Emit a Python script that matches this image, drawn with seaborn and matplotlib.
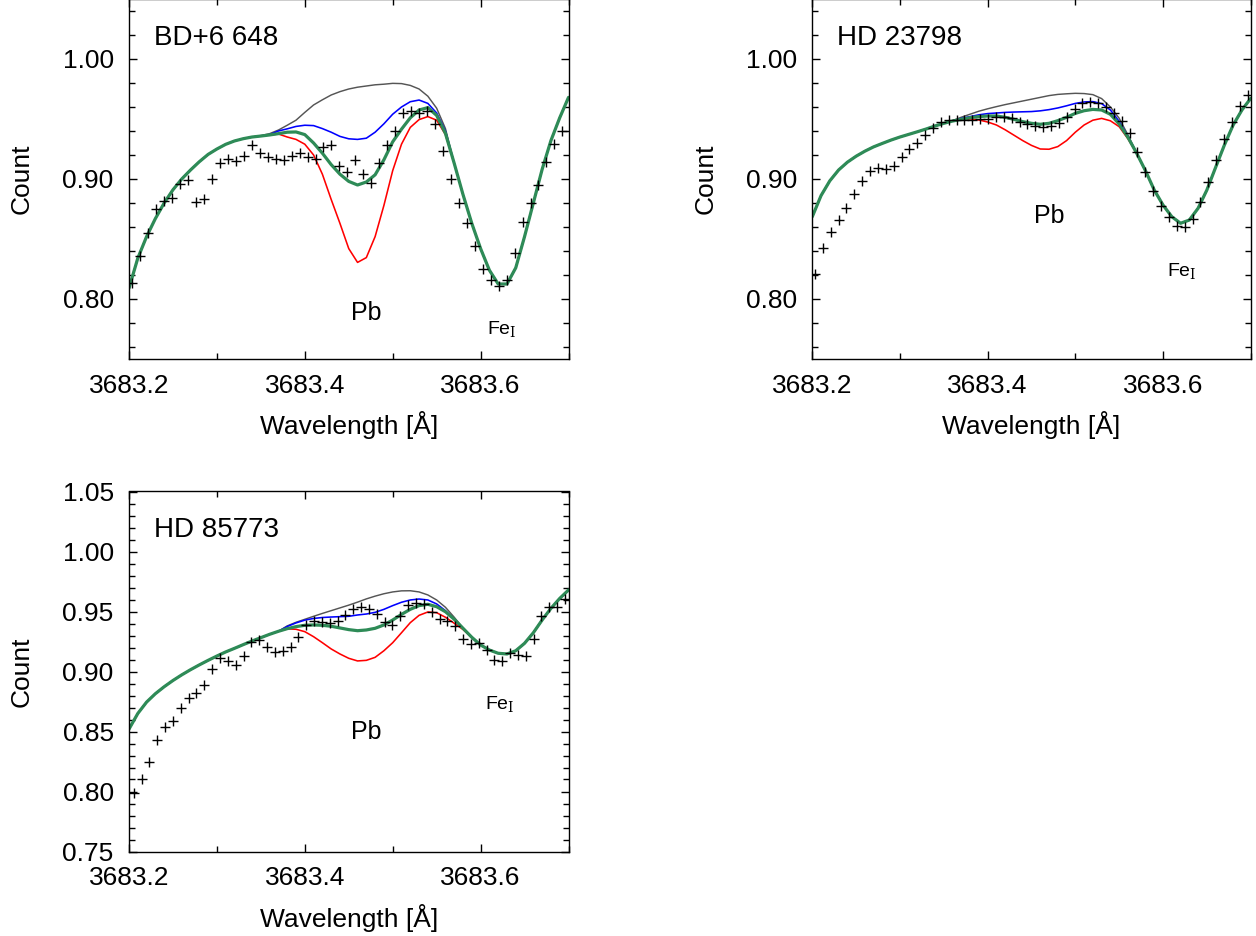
import numpy as np
import pandas as pd
import matplotlib
matplotlib.use("Agg")
import matplotlib.pyplot as plt
from matplotlib.ticker import MultipleLocator, FormatStrFormatter
import seaborn as sns

# ---------------------------------------------------------------------------
# Observed spectra (normalised counts) on each star's own wavelength grid
# ---------------------------------------------------------------------------
bd_obs_start, bd_obs_step = 3683.2038, 0.00906
bd_obs = [0.813, 0.836, 0.855, 0.875, 0.882, 0.884, 0.896, 0.899, 0.881, 0.883,
          0.900, 0.913, 0.917, 0.915, 0.919, 0.928, 0.922, 0.918, 0.917, 0.916,
          0.919, 0.922, 0.918, 0.917, 0.927, 0.928, 0.911, 0.906, 0.916, 0.904,
          0.897, 0.913, 0.928, 0.940, 0.955, 0.957, 0.955, 0.957, 0.946, 0.923,
          0.900, 0.880, 0.863, 0.844, 0.825, 0.816, 0.811, 0.816, 0.838, 0.864,
          0.880, 0.895, 0.914, 0.929, 0.940]

hd23_obs_start, hd23_obs_step = 3683.2031, 0.00897
hd23_obs = [0.8208, 0.8422, 0.8556, 0.8658, 0.8758, 0.8875, 0.8983, 0.9067, 0.9094, 0.9081,
            0.9111, 0.9181, 0.9247, 0.9303, 0.9364, 0.9428, 0.9475, 0.9492, 0.9492, 0.9495,
            0.9492, 0.9497, 0.9503, 0.9514, 0.9520, 0.9508, 0.9478, 0.9458, 0.9440, 0.9431,
            0.9442, 0.9469, 0.9514, 0.9581, 0.9636, 0.9644, 0.9631, 0.9603, 0.9553, 0.9486,
            0.9381, 0.9225, 0.9058, 0.8903, 0.8775, 0.8681, 0.8611, 0.8597, 0.8664, 0.8808,
            0.8978, 0.9158, 0.9331, 0.9478, 0.9608, 0.9697]

hd85_obs_start, hd85_obs_step = 3683.2054, 0.00892
hd85_obs = [0.7990, 0.8104, 0.8246, 0.8432, 0.8538, 0.8590, 0.8693, 0.8782, 0.8824, 0.8885,
            0.9018, 0.9115, 0.9090, 0.9051, 0.9129, 0.9243, 0.9260, 0.9201, 0.9165, 0.9171,
            0.9207, 0.9290, 0.9385, 0.9424, 0.9413, 0.9407, 0.9424, 0.9474, 0.9524, 0.9540,
            0.9524, 0.9479, 0.9410, 0.9388, 0.9463, 0.9551, 0.9574, 0.9563, 0.9496, 0.9440,
            0.9424, 0.9379, 0.9268, 0.9226, 0.9235, 0.9179, 0.9096, 0.9090, 0.9157, 0.9138,
            0.9129, 0.9268, 0.9463, 0.9540, 0.9535, 0.9604]

# ---------------------------------------------------------------------------
# Synthetic spectra, 3683.20-3683.70 A in 0.01 A steps
# gray: no Pb, blue / green / red: increasing Pb abundance (green = best fit)
# ---------------------------------------------------------------------------
synth_start, synth_step, synth_n = 3683.20, 0.01, 51

bd_gray = [0.809, 0.834, 0.852, 0.867, 0.880, 0.891, 0.900, 0.9075, 0.9144, 0.9205,
           0.925, 0.9289, 0.9317, 0.9336, 0.935, 0.9362, 0.9378, 0.9408, 0.9448, 0.949,
           0.9555, 0.9617, 0.966, 0.970, 0.9728, 0.975, 0.9765, 0.9775, 0.9785, 0.979,
           0.9797, 0.9795, 0.978, 0.975, 0.969, 0.959, 0.942, 0.913, 0.887, 0.863,
           0.842, 0.824, 0.8125, 0.8125, 0.826, 0.852, 0.880, 0.908, 0.932, 0.951,
           0.968]
bd_blue = [0.809, 0.834, 0.852, 0.867, 0.880, 0.891, 0.900, 0.9075, 0.9144, 0.9205,
           0.925, 0.9289, 0.9317, 0.9336, 0.935, 0.9358, 0.937, 0.940, 0.9418, 0.9438,
           0.9448, 0.9445, 0.942, 0.939, 0.9355, 0.9335, 0.933, 0.934, 0.939, 0.946,
           0.954, 0.960, 0.9644, 0.9658, 0.963, 0.955, 0.940, 0.913, 0.887, 0.863,
           0.842, 0.824, 0.8125, 0.8125, 0.826, 0.852, 0.880, 0.908, 0.932, 0.951,
           0.968]
bd_red = [0.809, 0.834, 0.852, 0.867, 0.880, 0.891, 0.900, 0.9075, 0.9144, 0.9205,
          0.925, 0.9289, 0.9317, 0.9336, 0.935, 0.9358, 0.9367, 0.9375, 0.935, 0.933,
          0.929, 0.920, 0.904, 0.883, 0.863, 0.842, 0.8305, 0.8345, 0.852, 0.878,
          0.907, 0.929, 0.943, 0.9495, 0.952, 0.949, 0.937, 0.913, 0.887, 0.863,
          0.842, 0.824, 0.8125, 0.8125, 0.826, 0.852, 0.880, 0.908, 0.932, 0.951,
          0.968]
bd_green = [0.809, 0.834, 0.852, 0.867, 0.880, 0.891, 0.900, 0.9075, 0.9144, 0.9205,
            0.925, 0.9289, 0.9317, 0.9336, 0.935, 0.9358, 0.9367, 0.9378, 0.939, 0.9392,
            0.937, 0.930, 0.9215, 0.912, 0.904, 0.898, 0.895, 0.8975, 0.9035, 0.916,
            0.931, 0.9415, 0.951, 0.9575, 0.9595, 0.953, 0.938, 0.913, 0.887, 0.863,
            0.842, 0.824, 0.8125, 0.8125, 0.826, 0.852, 0.880, 0.908, 0.932, 0.951,
            0.968]

hd23_gray = [0.8686, 0.8862, 0.8985, 0.9075, 0.9140, 0.9190, 0.9232, 0.9268, 0.9297, 0.9325,
             0.9350, 0.9372, 0.9394, 0.9417, 0.9442, 0.9464, 0.9487, 0.9515, 0.9540, 0.9565,
             0.9585, 0.9603, 0.9620, 0.9635, 0.9650, 0.9665, 0.9680, 0.9695, 0.9705, 0.9710,
             0.9714, 0.9712, 0.9703, 0.9670, 0.9600, 0.9506, 0.9367, 0.9214, 0.9069, 0.8908,
             0.8783, 0.8686, 0.8631, 0.8658, 0.8756, 0.8908, 0.9097, 0.9283, 0.9450, 0.9575,
             0.9672]
hd23_blue = [0.8686, 0.8862, 0.8985, 0.9075, 0.9140, 0.9190, 0.9232, 0.9268, 0.9297, 0.9325,
             0.9350, 0.9372, 0.9394, 0.9417, 0.9442, 0.9464, 0.9483, 0.9505, 0.9520, 0.9535,
             0.9545, 0.9550, 0.9555, 0.9558, 0.9560, 0.9562, 0.9568, 0.9578, 0.9592, 0.9610,
             0.9630, 0.9642, 0.9645, 0.9628, 0.9575, 0.9480, 0.9355, 0.9214, 0.9069, 0.8908,
             0.8783, 0.8686, 0.8631, 0.8658, 0.8756, 0.8908, 0.9097, 0.9283, 0.9450, 0.9575,
             0.9672]
hd23_red = [0.8686, 0.8862, 0.8985, 0.9075, 0.9140, 0.9190, 0.9232, 0.9268, 0.9297, 0.9325,
            0.9350, 0.9372, 0.9394, 0.9417, 0.9442, 0.9464, 0.9483, 0.9495, 0.9500, 0.9492,
            0.9475, 0.9450, 0.9410, 0.9365, 0.9320, 0.9280, 0.9250, 0.9248, 0.9270, 0.9320,
            0.9390, 0.9450, 0.9490, 0.9505, 0.9485, 0.9436, 0.9335, 0.9214, 0.9069, 0.8908,
            0.8783, 0.8686, 0.8631, 0.8658, 0.8756, 0.8908, 0.9097, 0.9283, 0.9450, 0.9575,
            0.9672]
hd23_green = [0.8686, 0.8862, 0.8985, 0.9075, 0.9140, 0.9190, 0.9232, 0.9268, 0.9297, 0.9325,
              0.9350, 0.9372, 0.9394, 0.9417, 0.9442, 0.9464, 0.9483, 0.9497, 0.9511, 0.9520,
              0.9525, 0.9525, 0.9514, 0.9497, 0.9478, 0.9464, 0.9456, 0.9464, 0.9486, 0.9514,
              0.9547, 0.9569, 0.9580, 0.9575, 0.9539, 0.9458, 0.9347, 0.9214, 0.9069, 0.8908,
              0.8783, 0.8686, 0.8631, 0.8658, 0.8756, 0.8908, 0.9097, 0.9283, 0.9450, 0.9575,
              0.9672]

hd85_gray = [0.8520, 0.8650, 0.8745, 0.8815, 0.8873, 0.8925, 0.8972, 0.9015, 0.9055, 0.9093,
             0.9129, 0.9163, 0.9193, 0.9224, 0.9254, 0.9282, 0.9310, 0.9335, 0.9380, 0.9410,
             0.9435, 0.9460, 0.9484, 0.9507, 0.9530, 0.9553, 0.9578, 0.9605, 0.9628, 0.9648,
             0.9663, 0.9672, 0.9673, 0.9663, 0.9638, 0.9596, 0.9535, 0.9452, 0.9362, 0.9285,
             0.9221, 0.9179, 0.9152, 0.9146, 0.9173, 0.9235, 0.9323, 0.9429, 0.9526, 0.9609,
             0.9679]
hd85_blue = [0.8520, 0.8650, 0.8745, 0.8815, 0.8873, 0.8925, 0.8972, 0.9015, 0.9055, 0.9093,
             0.9129, 0.9163, 0.9193, 0.9224, 0.9254, 0.9282, 0.9310, 0.9335, 0.9375, 0.9405,
             0.9428, 0.9442, 0.9450, 0.9454, 0.9457, 0.9460, 0.9471, 0.9479, 0.9493, 0.9518,
             0.9549, 0.9577, 0.9596, 0.9604, 0.9596, 0.9563, 0.9507, 0.9436, 0.9362, 0.9285,
             0.9221, 0.9179, 0.9152, 0.9146, 0.9173, 0.9235, 0.9323, 0.9429, 0.9526, 0.9609,
             0.9679]
hd85_red = [0.8520, 0.8650, 0.8745, 0.8815, 0.8873, 0.8925, 0.8972, 0.9015, 0.9055, 0.9093,
            0.9129, 0.9163, 0.9193, 0.9224, 0.9254, 0.9282, 0.9310, 0.9335, 0.9355, 0.9352,
            0.9332, 0.9290, 0.9240, 0.9188, 0.9146, 0.9110, 0.9088, 0.9093, 0.9118, 0.9173,
            0.9240, 0.9323, 0.9407, 0.9468, 0.9496, 0.9490, 0.9452, 0.9402, 0.9350, 0.9285,
            0.9221, 0.9179, 0.9152, 0.9146, 0.9173, 0.9235, 0.9323, 0.9429, 0.9526, 0.9609,
            0.9679]
hd85_green = [0.8520, 0.8650, 0.8745, 0.8815, 0.8873, 0.8925, 0.8972, 0.9015, 0.9055, 0.9093,
              0.9129, 0.9163, 0.9193, 0.9224, 0.9254, 0.9282, 0.9310, 0.9335, 0.9357, 0.9374,
              0.9385, 0.9388, 0.9385, 0.9377, 0.9363, 0.9349, 0.9340, 0.9346, 0.9360, 0.9388,
              0.9429, 0.9476, 0.9518, 0.9549, 0.9560, 0.9540, 0.9498, 0.9435, 0.9360, 0.9285,
              0.9221, 0.9179, 0.9152, 0.9146, 0.9173, 0.9235, 0.9323, 0.9429, 0.9526, 0.9609,
              0.9679]

star_names = ["BD+6 648", "HD 23798", "HD 85773"]

# ---------------------------------------------------------------------------
sns.set_theme(style="ticks")
plt.rcParams["font.family"] = ["Liberation Sans", "DejaVu Sans"]
plt.rcParams["mathtext.fontset"] = "custom"
plt.rcParams["mathtext.rm"] = "DejaVu Serif"

W, H = 1256, 936
fig = plt.figure(figsize=(W / 100, H / 100), dpi=100)
fig.patch.set_facecolor("white")


def px_axes(left, right, top, bottom):
    return fig.add_axes([left / W, 1 - bottom / H, (right - left) / W, (bottom - top) / H])


synth_wave = synth_start + synth_step * np.arange(synth_n)

panels = [
    dict(name=star_names[0], box=(129, 568.5, -1, 359),
         obs=bd_obs, start=bd_obs_start, step=bd_obs_step,
         models=(bd_gray, bd_blue, bd_red, bd_green),
         ymajor=0.10, yminor=0.02, pb=(3683.4530, 0.7825), fe=(3683.6070, 0.770)),
    dict(name=star_names[1], box=(812.3, 1250.7, -1, 359),
         obs=hd23_obs, start=hd23_obs_start, step=hd23_obs_step,
         models=(hd23_gray, hd23_blue, hd23_red, hd23_green),
         ymajor=0.10, yminor=0.02, pb=(3683.4530, 0.863), fe=(3683.6045, 0.819)),
    dict(name=star_names[2], box=(129, 568.5, 491.5, 851.5),
         obs=hd85_obs, start=hd85_obs_start, step=hd85_obs_step,
         models=(hd85_gray, hd85_blue, hd85_red, hd85_green),
         ymajor=0.05, yminor=0.01, pb=(3683.4530, 0.8435), fe=(3683.6045, 0.868)),
]

styles = [("#555555", 1.05), ("#0000ff", 1.15), ("#ff0000", 1.15), ("#2e8b57", 2.3)]

for p in panels:
    ax = px_axes(*p["box"])
    ax.set_facecolor("white")

    for flux, (col, lw) in zip(p["models"], styles):
        sns.lineplot(x=synth_wave, y=np.asarray(flux), ax=ax, color=col, linewidth=lw,
                     estimator=None, sort=False, legend=False)

    obs_wave = p["start"] + p["step"] * np.arange(len(p["obs"]))
    sns.scatterplot(x=obs_wave, y=np.asarray(p["obs"]), ax=ax, marker="+", s=42,
                    color="black", linewidth=1.0, legend=False, zorder=5)

    ax.set_xlim(3683.2, 3683.7)
    ax.set_ylim(0.75, 1.05)
    ax.xaxis.set_major_locator(MultipleLocator(0.2))
    ax.xaxis.set_minor_locator(MultipleLocator(0.1))
    ax.xaxis.set_major_formatter(FormatStrFormatter("%.1f"))
    ax.yaxis.set_major_locator(MultipleLocator(p["ymajor"]))
    ax.yaxis.set_minor_locator(MultipleLocator(p["yminor"]))
    ax.yaxis.set_major_formatter(FormatStrFormatter("%.2f"))

    ax.tick_params(which="both", direction="in", top=True, right=True,
                   width=1.0, color="black", labelsize=19, labelcolor="black")
    ax.tick_params(which="major", length=5.5)
    ax.tick_params(which="minor", length=4)
    ax.tick_params(axis="y", which="major", pad=11)
    ax.tick_params(axis="x", which="major", pad=10.5)
    for sp in ax.spines.values():
        sp.set_color("black")
        sp.set_linewidth(1.0)

    ax.set_xlabel("Wavelength [Å]", fontsize=19, color="black")
    ax.set_ylabel("Count", fontsize=19, color="black")
    ax.xaxis.set_label_coords(0.5, -0.145)
    ax.yaxis.set_label_coords(-0.216, 0.5)

    ax.text(3683.228, 1.0117, p["name"], fontsize=20, ha="left", va="baseline", color="black")
    ax.text(p["pb"][0], p["pb"][1], "Pb", fontsize=18, ha="left", va="baseline", color="black")
    ax.text(p["fe"][0], p["fe"][1], r"Fe$_{\mathrm{I}}$", fontsize=14, ha="left",
            va="baseline", color="black")

fig.savefig("out.png", dpi=100, facecolor="white")
